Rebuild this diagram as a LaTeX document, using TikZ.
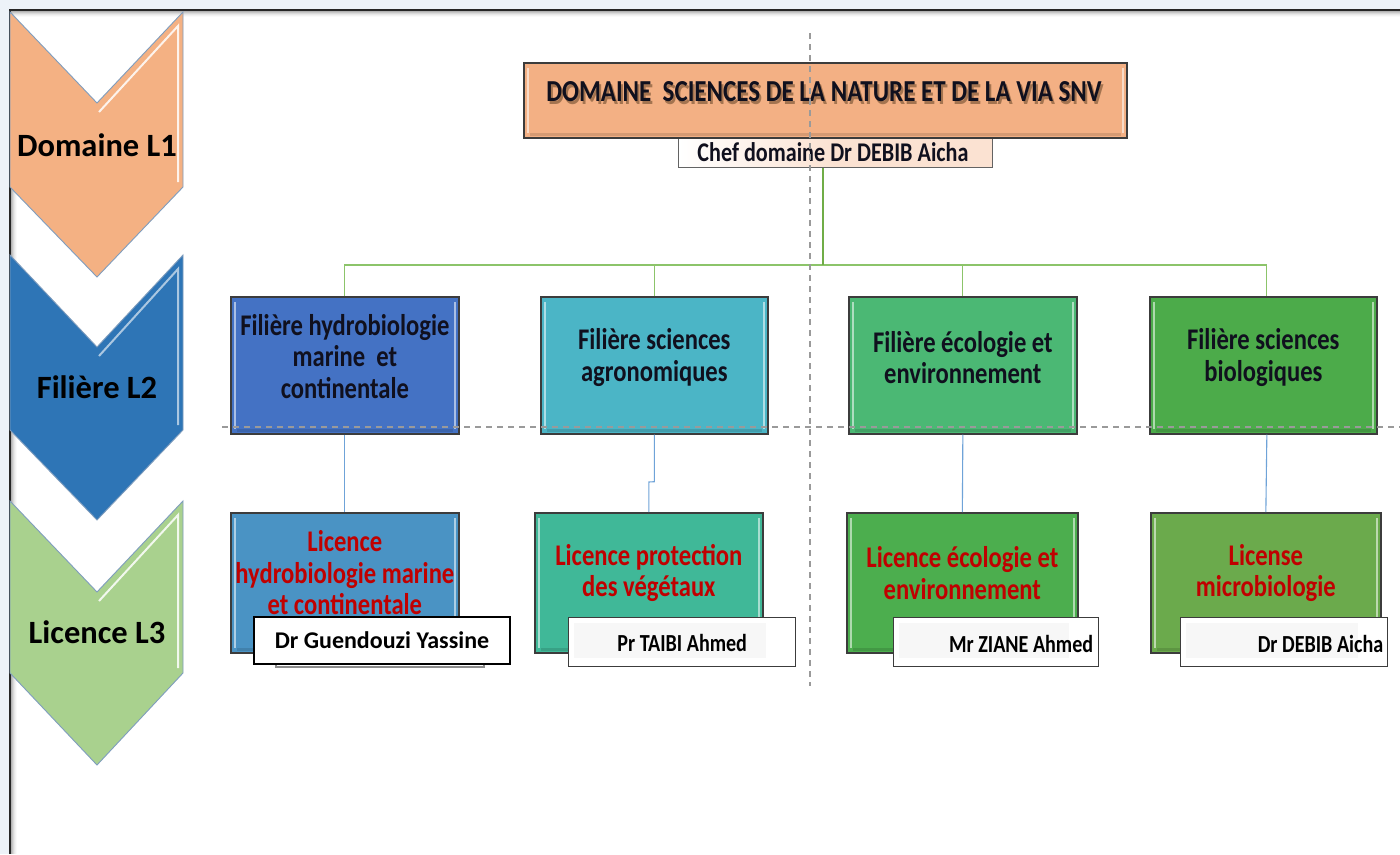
\documentclass[tikz,border=0pt]{standalone}
\usepackage{fontspec}
\setmainfont{Carlito}
\newfontfamily\narrowfont[FakeStretch=0.82]{Carlito}
\definecolor{pagebg}{HTML}{EDF2F8}
\definecolor{chevorange}{HTML}{F4B183}
\definecolor{chevblue}{HTML}{2E75B6}
\definecolor{chevgreen}{HTML}{A9D18E}
\definecolor{chevedge}{HTML}{7F9DBE}
\definecolor{boxedge}{HTML}{3C3C3C}
\definecolor{headfill}{HTML}{F3B084}
\definecolor{cheffill}{HTML}{FBE2D2}
\definecolor{hydroA}{HTML}{4472C4}
\definecolor{agroA}{HTML}{4BB5C6}
\definecolor{ecoA}{HTML}{4BB874}
\definecolor{bioA}{HTML}{4CAB4A}
\definecolor{hydroB}{HTML}{4A93C4}
\definecolor{agroB}{HTML}{40B898}
\definecolor{ecoB}{HTML}{4CAE4E}
\definecolor{bioB}{HTML}{6BAA4C}
\definecolor{trunkgreen}{HTML}{70AD47}
\definecolor{busgreen}{HTML}{8CC46A}
\definecolor{linkblue}{HTML}{6FA3D8}
\definecolor{titleink}{HTML}{10101E}
\definecolor{licred}{HTML}{C00000}
\definecolor{guide}{HTML}{9A9A9A}
\begin{document}
\begin{tikzpicture}[x=1pt,y=-1pt,
  chevron/.style={draw=chevedge,line width=0.9pt,line join=miter},
  chevlabel/.style={font=\fontsize{32.5}{36}\selectfont\bfseries,text=black,inner sep=0},
  tier/.style={draw=boxedge,line width=1.7pt,inner sep=0,anchor=north west,
    path picture={
      \draw[white,opacity=0.55,line width=2.4pt]
        ([xshift=4pt,yshift=-5pt]path picture bounding box.north west) --
        ([xshift=4pt,yshift=5pt]path picture bounding box.south west);
      \draw[white,opacity=0.55,line width=2.4pt]
        ([xshift=-4pt,yshift=-5pt]path picture bounding box.north east) --
        ([xshift=-4pt,yshift=5pt]path picture bounding box.south east);
      \draw[black,opacity=0.12,line width=3pt]
        ([xshift=6pt,yshift=3pt]path picture bounding box.south west) --
        ([xshift=-6pt,yshift=3pt]path picture bounding box.south east);
    }},
  filtext/.style={font=\narrowfont\fontsize{30}{31.5}\selectfont\bfseries,text=titleink,align=center,inner sep=0},
  lictext/.style={font=\narrowfont\fontsize{30}{31.5}\selectfont\bfseries,text=licred,align=center,inner sep=0},
  namebox/.style={draw=boxedge,line width=1.4pt,fill=white,inner sep=0,anchor=north west,
    path picture={\fill[black!3]
      ([xshift=5pt,yshift=-5pt]path picture bounding box.north west) rectangle
      ([xshift=-30pt,yshift=9pt]path picture bounding box.south east);}},
  nametext/.style={font=\narrowfont\fontsize{24.5}{27}\selectfont\bfseries,text=black,inner sep=0},
  trunk/.style={draw=trunkgreen,line width=2.2pt},
  bus/.style={draw=busgreen,line width=1.2pt},
  link/.style={draw=linkblue,line width=1.1pt},
  guideline/.style={draw=guide,line width=1.1pt,dash pattern=on 6pt off 5pt}
]
\useasboundingbox (0,0) rectangle (1400,854);

% page and frame
\fill[pagebg] (0,0) rectangle (1400,854);
\fill[white] (10,10) rectangle (1400,854);
\foreach \k/\o in {1/0.30,2/0.22,3/0.15,4/0.09,5/0.05,6/0.02}{
  \draw[black,opacity=\o,line width=1pt] (10+\k,854) -- (10+\k,10+\k) -- (1400,10+\k);
}
\draw[black!85,line width=1.8pt] (10,854) -- (10,10) -- (1400,10);

% level chevrons
\draw[chevron,fill=chevorange] (10,12) -- (97,103) -- (183,12) -- (183,187) -- (97,277) -- (10,187) -- cycle;
\draw[white,opacity=0.85,line width=2pt] (99,112) -- (178,26) -- (178,182);
\node[chevlabel] (dom) at (97,145) {Domaine L1};

\draw[chevron,fill=chevblue] (10,255) -- (97,347) -- (183,255) -- (183,430) -- (97,520) -- (10,430) -- cycle;
\draw[white,opacity=0.6,line width=2pt] (99,356) -- (178,269) -- (178,425);
\node[chevlabel] (fil) at (97,387) {Filière L2};

\draw[chevron,fill=chevgreen] (10,501) -- (97,592) -- (183,501) -- (183,673) -- (97,765) -- (10,673) -- cycle;
\draw[white,opacity=0.85,line width=2pt] (99,601) -- (178,515) -- (178,668);
\node[chevlabel] (lic) at (97,632) {Licence L3};

% domain header and its chief
\node[draw=boxedge!80,line width=1.2pt,left color=white,right color=cheffill,middle color=cheffill,
      inner sep=0,anchor=north west,minimum width=314pt,minimum height=37pt] (chef) at (678,130) {};
\node[font=\narrowfont\fontsize{27}{29}\selectfont\bfseries,text=titleink,inner sep=0] (cheft) at (833,152) {Chef domaine Dr DEBIB Aicha};

\node[tier,fill=headfill,minimum width=603pt,minimum height=75pt] (head) at (523,62) {};
\node[font=\narrowfont\fontsize{30.5}{32}\selectfont\bfseries,text=black!55!brown,opacity=0.5,inner sep=0] at (826,94.5) {DOMAINE\ \ SCIENCES DE LA NATURE ET DE LA VIA SNV};
\node[font=\narrowfont\fontsize{30.5}{32}\selectfont\bfseries,text=titleink,inner sep=0] (headt) at (824,92) {DOMAINE\ \ SCIENCES DE LA NATURE ET DE LA VIA SNV};

% filieres (L2)
\node[tier,fill=hydroA,minimum width=228pt,minimum height=137pt] (l2a) at (230,296) {};
\node[tier,fill=agroA,minimum width=227pt,minimum height=137pt] (l2b) at (540,296) {};
\node[tier,fill=ecoA,minimum width=228pt,minimum height=137pt] (l2c) at (848,296) {};
\node[tier,fill=bioA,minimum width=227pt,minimum height=137pt] (l2d) at (1149,296) {};
\node[filtext] (l2at) at ([yshift=9pt]l2a.center) {Filière hydrobiologie\\marine\ \ et\\continentale};
\node[filtext] (l2bt) at ([yshift=8pt]l2b.center) {Filière sciences\\agronomiques};
\node[filtext] (l2ct) at ([yshift=8pt]l2c.center) {Filière écologie et\\environnement};
\node[filtext] (l2dt) at ([yshift=8pt]l2d.center) {Filière sciences\\biologiques};

% licences (L3)
\node[tier,fill=hydroB,minimum width=228pt,minimum height=140pt] (l3a) at (230,512) {};
\node[tier,fill=agroB,minimum width=228pt,minimum height=140pt] (l3b) at (534,512) {};
\node[tier,fill=ecoB,minimum width=231pt,minimum height=140pt] (l3c) at (846,512) {};
\node[tier,fill=bioB,minimum width=230pt,minimum height=140pt] (l3d) at (1150,512) {};
\node[lictext] (l3at) at ([yshift=10pt]l3a.center) {Licence\\hydrobiologie marine\\et continentale};
\node[lictext] (l3bt) at ([yshift=10pt]l3b.center) {Licence protection\\des végétaux};
\node[lictext] (l3ct) at ([yshift=10pt]l3c.center) {Licence écologie et\\environnement};
\node[lictext] (l3dt) at ([yshift=10pt]l3d.center) {License\\microbiologie};

% responsables
\node[draw=black!45,line width=2pt,inner sep=0,anchor=north west,minimum width=208pt,minimum height=46pt] (gshadow) at (275,620) {};
\node[draw=black,line width=2pt,fill=white,inner sep=0,anchor=north west,minimum width=256pt,minimum height=47pt] (guen) at (253,616) {};
\node[font=\fontsize{24}{26}\selectfont\bfseries,text=black,inner sep=0] (guent) at (guen.center) {Dr Guendouzi Yassine};

\node[namebox,minimum width=227pt,minimum height=49pt] (taibi) at (568,617) {};
\node[nametext] (taibit) at ([yshift=-1pt]taibi.center) {Pr TAIBI Ahmed};
\node[namebox,minimum width=205pt,minimum height=49pt] (ziane) at (893,617) {};
\node[nametext,anchor=east] (zianet) at ([xshift=-6pt,yshift=-2pt]ziane.east) {Mr ZIANE Ahmed};
\node[namebox,minimum width=207pt,minimum height=49pt] (debib) at (1180,617) {};
\node[nametext,anchor=east] (debibt) at ([xshift=-5pt,yshift=-2pt]debib.east) {Dr DEBIB Aicha};

% connectors
\coordinate (hub) at (823,265);
\draw[bus] (l2a.north) -- (l2a.north |- hub) -- ([xshift=3.5pt]l2d.north |- hub) -- ([xshift=3.5pt]l2d.north);
\draw[bus] (l2b.north) -- (l2b.north |- hub);
\draw[bus] (l2c.north) -- (l2c.north |- hub);
\draw[trunk] (chef.south -| hub) -- (hub);

\draw[link] (l2a.south) -- (l3a.north);
\draw[link] (l2b.south) -- ([yshift=-47pt]l2b.south) -- ([yshift=30pt]l3b.north) -- (l3b.north);
\draw[link] (l2c.south) -- (l3c.north);
\draw[link] ([xshift=3.5pt]l2d.south) -- (l3d.north);

% layout guides
\coordinate (gv1) at (810,33);
\coordinate (gv2) at (810,686);
\coordinate (gh1) at (222,427);
\coordinate (gh2) at (1400,427);
\draw[guideline] (gv1) -- (gv2);
\draw[guideline] (gh1) -- (gh2);
\end{tikzpicture}
\end{document}
